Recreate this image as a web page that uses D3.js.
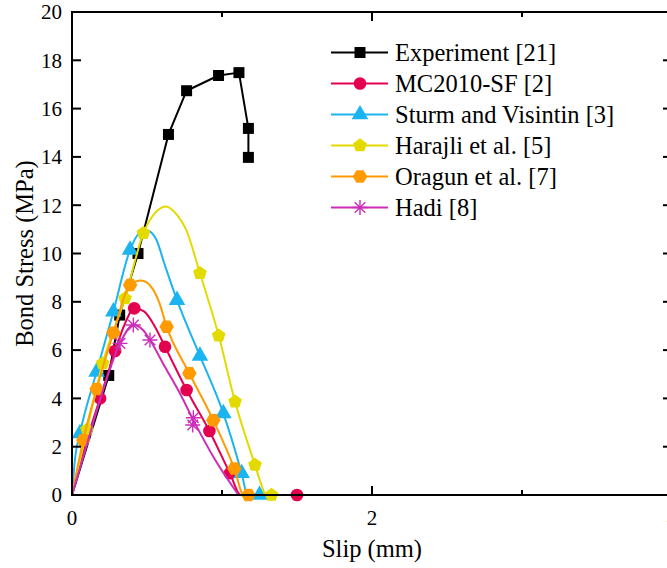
<!DOCTYPE html>
<html><head><meta charset="utf-8">
<script src="https://cdn.jsdelivr.net/npm/d3@7"></script>
<style>
html,body{margin:0;padding:0;background:#fff;}
svg{display:block;}
text{font-family:"Liberation Serif","Times New Roman",serif;fill:#000;}
</style></head>
<body>
<svg id="chart" width="667" height="568"></svg>
<script>
// ---------- data ----------
const seriesNames = ["Experiment [21]","MC2010-SF [2]","Sturm and Visintin [3]","Harajli et al. [5]","Oragun et al. [7]","Hadi [8]"];
const seriesColors = ["#000000","#e3004f","#1cb4f0","#e3da00","#ff9a00","#cc2db9"];
const seriesShapes = ["square","circle","triangle","pentagon","hexagon","star"];

const expCurve = [[0,0],[0.245,4.95],[0.318,7.45],[0.44,10.0],[0.643,14.93],[0.764,16.74],[0.977,17.37],[1.113,17.49],[1.176,15.18],[1.176,13.98]];
const expMarks = [[0.245,4.95],[0.318,7.45],[0.44,10.0],[0.643,14.93],[0.764,16.74],[0.977,17.37],[1.113,17.49],[1.176,15.18],[1.176,13.98]];

const mcCurve = [[0,0],[0.1,2.3],[0.187,4.0],[0.287,5.96],[0.35,7.05],[0.415,7.73],[0.48,7.6],[0.55,7.0],[0.62,6.14],[0.764,4.35],[0.916,2.65],[1.053,0.9],[1.125,0],[1.5,0]];
const mcMarks = [[0.187,4.0],[0.287,5.96],[0.415,7.73],[0.62,6.14],[0.764,4.35],[0.916,2.65],[1.053,0.9],[1.5,0]];

const svCurve = [[0,0],[0.02,1.5],[0.053,2.55],[0.164,5.1],[0.276,7.59],[0.387,10.15],[0.45,10.85],[0.5,10.95],[0.56,10.6],[0.62,9.5],[0.7,8.07],[0.853,5.76],[1.009,3.38],[1.131,0.9],[1.17,0],[1.25,0]];
const svMarks = [[0.053,2.55],[0.164,5.1],[0.276,7.59],[0.387,10.15],[0.7,8.07],[0.853,5.76],[1.009,3.38],[1.131,0.9],[1.25,0]];

const haCurve = [[0,0],[0.1,2.7],[0.204,5.45],[0.353,8.14],[0.476,10.84],[0.55,11.65],[0.625,11.95],[0.7,11.6],[0.76,11.0],[0.853,9.18],[0.978,6.6],[1.087,3.86],[1.22,1.24],[1.27,0.3],[1.29,0],[1.33,0]];
const haMarks = [[0.1,2.7],[0.204,5.45],[0.353,8.14],[0.476,10.84],[0.853,9.18],[0.978,6.6],[1.087,3.86],[1.22,1.24],[1.33,0]];

const orCurve = [[0,0],[0.075,2.27],[0.164,4.39],[0.276,6.72],[0.387,8.7],[0.46,8.88],[0.53,8.6],[0.58,8.0],[0.631,6.97],[0.782,5.04],[0.942,3.1],[1.082,1.1],[1.145,0],[1.176,0]];
const orMarks = [[0.075,2.27],[0.164,4.39],[0.276,6.72],[0.387,8.7],[0.631,6.97],[0.782,5.04],[0.942,3.1],[1.082,1.1],[1.176,0]];

const hdCurve = [[0,0],[0.1,2.1],[0.2,4.2],[0.32,6.28],[0.409,7.04],[0.47,6.85],[0.52,6.42],[0.62,5.3],[0.72,4.2],[0.809,3.1],[0.95,1.5],[1.11,0]];
const hdMarks = [[0.32,6.28],[0.409,7.04],[0.52,6.42],[0.809,3.2],[0.805,2.9]];

const xTicks = [0,1,2,3,4];
const xTickLabels = [0,2,4];
const yTicks = [0,2,4,6,8,10,12,14,16,18,20];

const curves = [expCurve,mcCurve,svCurve,haCurve,orCurve,hdCurve];
const marks = [expMarks,mcMarks,svMarks,haMarks,orMarks,hdMarks];

// ---------- layout ----------
const svg = d3.select("#chart");
const x = d3.scaleLinear().domain([0,4]).range([72,672]);
const y = d3.scaleLinear().domain([0,20]).range([495,12]);

// symbol path generators
function polygon(n, r, rot){
  const pts=[];
  for(let i=0;i<n;i++){const a=rot+i*2*Math.PI/n;pts.push([r*Math.cos(a),r*Math.sin(a)]);}
  return "M"+pts.map(p=>p[0].toFixed(2)+","+p[1].toFixed(2)).join("L")+"Z";
}
function markerPath(shape){
  switch(shape){
    case "square": return d3.symbol(d3.symbolSquare,121)();
    case "circle": return d3.symbol(d3.symbolCircle,125)();
    case "triangle": return d3.symbol(d3.symbolTriangle,120)();
    case "pentagon": return polygon(5,7.2,-Math.PI/2);
    case "hexagon": return polygon(6,7.2,0);
    case "star": {
      const r=7.5; let d="";
      for(let i=0;i<4;i++){const a=i*Math.PI/4;d+=`M${(-r*Math.cos(a)).toFixed(2)},${(-r*Math.sin(a)).toFixed(2)}L${(r*Math.cos(a)).toFixed(2)},${(r*Math.sin(a)).toFixed(2)}`;}
      return d;
    }
  }
}
function drawMarker(g, shape, color, cx, cy){
  const p = g.append("path").attr("d",markerPath(shape)).attr("transform",`translate(${cx},${cy})`);
  if(shape==="star") p.attr("fill","none").attr("stroke",color).attr("stroke-width",1.4);
  else p.attr("fill",color).attr("stroke","none");
}

// ---------- data layers ----------
const plot = svg.append("g");
const lineStraight = d3.line().x(d=>x(d[0])).y(d=>y(d[1]));
const lineSmooth = d3.line().x(d=>x(d[0])).y(d=>y(d[1])).curve(d3.curveMonotoneX);

curves.forEach((c,i)=>{
  const gen = i===0 ? lineStraight : lineSmooth;
  plot.append("path").attr("d",gen(c)).attr("fill","none")
    .attr("stroke",seriesColors[i]).attr("stroke-width",2).attr("stroke-linejoin","round");
  marks[i].forEach(m=>drawMarker(plot, seriesShapes[i], seriesColors[i], x(m[0]), y(m[1])));
});

// ---------- axes ----------
const ax = svg.append("g").attr("stroke","#000").attr("stroke-width",2).attr("fill","none");
ax.append("rect").attr("x",x(0)).attr("y",y(20)).attr("width",x(4)-x(0)).attr("height",y(0)-y(20));
xTicks.forEach(t=>{
  const len = (t%2===0)?9:5;
  ax.append("line").attr("x1",x(t)).attr("x2",x(t)).attr("y1",y(0)).attr("y2",y(0)-len);
  ax.append("line").attr("x1",x(t)).attr("x2",x(t)).attr("y1",y(20)).attr("y2",y(20)+len);
});
yTicks.forEach(t=>{
  ax.append("line").attr("x1",x(0)).attr("x2",x(0)+9).attr("y1",y(t)).attr("y2",y(t));
  ax.append("line").attr("x1",x(4)).attr("x2",x(4)-9).attr("y1",y(t)).attr("y2",y(t));
});
xTickLabels.forEach(t=>{
  svg.append("text").attr("x",x(t)).attr("y",y(0)+30).attr("text-anchor","middle")
    .attr("font-size",21).text(t);
});
yTicks.forEach(t=>{
  svg.append("text").attr("x",x(0)-10).attr("y",y(t)).attr("dy","0.35em").attr("text-anchor","end")
    .attr("font-size",21).text(t);
});
svg.append("text").attr("x",x(2)).attr("y",557).attr("text-anchor","middle").attr("font-size",24.5).text("Slip (mm)");
svg.append("text").attr("transform",`translate(33,${y(10)}) rotate(-90)`).attr("text-anchor","middle")
  .attr("font-size",24.5).text("Bond Stress (MPa)");

// ---------- legend ----------
const leg = svg.append("g");
seriesNames.forEach((n,i)=>{
  const ly = 52.5 + i*31;
  leg.append("line").attr("x1",331).attr("x2",388).attr("y1",ly).attr("y2",ly)
    .attr("stroke",seriesColors[i]).attr("stroke-width",2);
  drawMarker(leg, seriesShapes[i], seriesColors[i], 360, ly);
  leg.append("text").attr("x",395).attr("y",ly).attr("dy","0.35em").attr("font-size",24.5).text(n);
});
</script>
</body></html>
